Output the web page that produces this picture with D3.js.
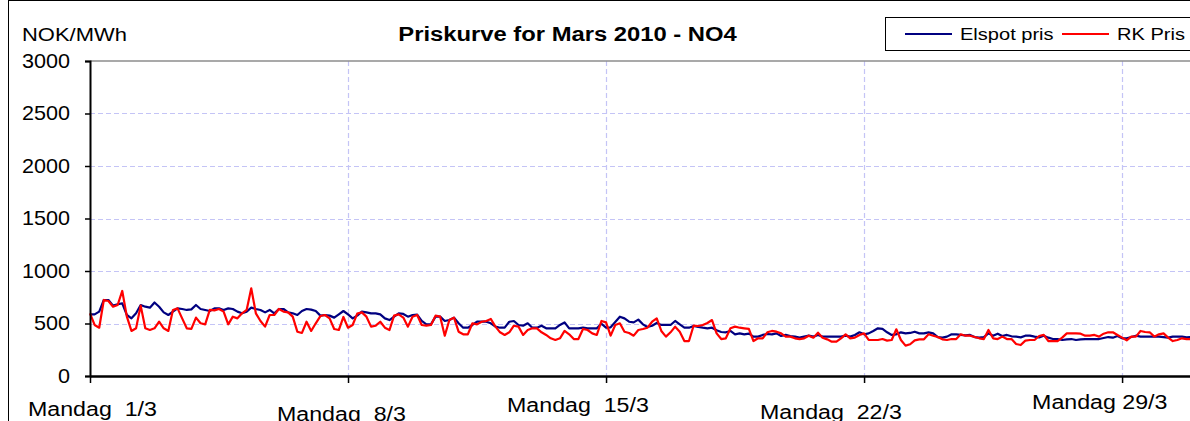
<!DOCTYPE html>
<html>
<head>
<meta charset="utf-8">
<script src="https://cdn.jsdelivr.net/npm/d3@7"></script>
<style>
  body { margin: 0; background: #fff; }
  svg { display: block; font-family: "Liberation Sans", Arial, sans-serif; }
</style>
</head>
<body>
<div id="chart-area"></div>
<script>
// hourly prices, one value every 3 hours from 1 March 00:00
const stepHours = 3;

const elspotPris = [
  587, 587, 613, 724, 724, 670, 683, 692, 581, 549, 597, 676, 660, 651, 700, 660, 606, 581, 613, 644, 638, 629,
  635, 676, 638, 629, 619, 644, 644, 629, 644, 638, 613, 597, 613, 651, 638, 629, 606, 629, 597, 638, 638, 606,
  597, 581, 619, 638, 632, 619, 575, 581, 575, 556, 587, 619, 587, 549, 575, 613, 606, 597, 597, 587, 549, 533,
  565, 597, 591, 565, 581, 584, 524, 492, 492, 565, 565, 524, 533, 556, 502, 460, 460, 486, 517, 517, 517,
  502, 470, 460, 460, 517, 524, 486, 479, 502, 460, 460, 479, 454, 454, 454, 486, 511, 454, 454, 454, 460, 454,
  454, 454, 498, 460, 464, 514, 565, 549, 517, 511, 537, 492, 467, 479, 505, 486, 486, 486, 524, 492, 460, 460,
  476, 467, 460, 454, 460, 435, 419, 416, 429, 397, 406, 397, 403, 375, 375, 391, 400, 397, 406, 381, 391,
  381, 375, 365, 375, 384, 375, 391, 375, 375, 375, 375, 375, 384, 375, 391, 416, 397, 406, 429, 454, 448, 416,
  391, 397, 416, 406, 410, 422, 406, 406, 416, 406, 371, 365, 375, 397, 397, 391, 387, 391, 371, 365, 371, 406,
  384, 403, 381, 391, 378, 375, 368, 384, 384, 375, 368, 384, 365, 352, 352, 343, 349, 352, 343, 349, 352, 352,
  352, 352, 362, 371, 365, 381, 359, 359, 371, 384, 375, 375, 375, 375, 375, 371, 365, 375, 375, 375, 368, 370
];

const rkPris = [
  597, 486, 460, 724, 714, 660, 676, 810, 565, 429, 454, 670, 454, 438, 454, 517, 454, 429, 629, 644, 549, 454,
  448, 556, 502, 492, 629, 625, 638, 613, 492, 565, 549, 597, 629, 835, 597, 524, 470, 581, 581, 638, 613, 606,
  565, 422, 410, 517, 429, 502, 571, 581, 549, 448, 438, 562, 460, 486, 594, 606, 565, 470, 479, 517, 460, 438,
  575, 587, 556, 470, 565, 581, 486, 479, 486, 575, 565, 384, 533, 556, 422, 397, 397, 502, 492, 517, 524,
  543, 470, 416, 391, 416, 479, 470, 391, 438, 454, 454, 416, 391, 359, 343, 359, 429, 397, 352, 352, 448, 438,
  406, 391, 524, 511, 384, 486, 502, 422, 410, 384, 438, 448, 460, 517, 549, 429, 375, 416, 470, 422, 333, 333,
  479, 476, 486, 505, 533, 406, 352, 359, 454, 470, 460, 454, 448, 333, 359, 359, 416, 429, 422, 406, 375,
  375, 359, 352, 359, 384, 365, 413, 365, 349, 327, 327, 359, 397, 359, 365, 391, 406, 343, 343, 343, 352, 337,
  343, 445, 343, 289, 302, 340, 349, 349, 397, 384, 371, 349, 343, 352, 352, 397, 384, 384, 371, 359, 352, 438,
  359, 352, 375, 352, 352, 305, 295, 337, 343, 343, 381, 391, 333, 333, 333, 365, 406, 406, 406, 403, 384, 384,
  391, 375, 403, 416, 416, 391, 365, 340, 375, 375, 429, 419, 416, 375, 397, 406, 365, 333, 343, 359, 352, 352
];

const yTicks = [0, 500, 1000, 1500, 2000, 2500, 3000];
const tickDays = [0, 7, 14, 21, 28];
const tickLabels = ["Mandag  1/3", "Mandag  8/3", "Mandag  15/3", "Mandag  22/3", "Mandag 29/3"];
const seriesNames = ["Elspot pris", "RK Pris"];
const daysInMonth = 31;

const chart = {
  totalWidth: 1190,
  totalHeight: 421,
  plotLeft: 90,
  plotTop: 61,
  plotBottom: 376,
  dayWidth: 36.86,

  colors: ["#000080", "#ff0000"],
  gridColor: "#c4c4f6",

  // the picture is a little wider than tall, so text is stretched sideways
  stretch: 1.2,

  // Excel staggers the date labels, so each one gets its own offset
  labelOffsets: [[-62, 416], [-71, 421], [-99, 412], [-104, 419], [-90, 409]],

  svg: undefined,
  xScale: undefined,
  yScale: undefined,

  setup: function() {
    this.svg = d3.select("#chart-area")
      .append("svg")
        .attr("width", this.totalWidth)
        .attr("height", this.totalHeight);

    this.xScale = d3.scaleLinear()
      .domain([0, daysInMonth * 24])
      .range([this.plotLeft, this.plotLeft + daysInMonth * this.dayWidth]);

    this.yScale = d3.scaleLinear()
      .domain([0, 3000])
      .range([this.plotBottom, this.plotTop]);

    // outer frame
    this.svg.append("rect")
      .attr("x", 8.5)
      .attr("y", 0.5)
      .attr("width", this.totalWidth)
      .attr("height", this.totalHeight)
      .attr("fill", "none")
      .attr("stroke", "#000")
      .attr("stroke-width", 1);
  },

  addText: function(x, y, str, size, sx) {
    return this.svg.append("text")
      .attr("transform", "translate(" + x + "," + y + ") scale(" + sx + ",1)")
      .attr("font-size", size + "px")
      .attr("fill", "#000")
      .style("white-space", "pre")
      .text(str);
  },

  addGrid: function() {
    const right = this.totalWidth;

    this.svg.append("g")
      .selectAll("line")
      .data(yTicks.filter(v => v > 0 && v < 3000))
      .join("line")
        .attr("x1", this.plotLeft)
        .attr("x2", right)
        .attr("y1", d => Math.round(this.yScale(d)) + 0.5)
        .attr("y2", d => Math.round(this.yScale(d)) + 0.5)
        .attr("stroke", this.gridColor)
        .attr("stroke-width", 1.2)
        .attr("stroke-dasharray", "5,3");

    this.svg.append("g")
      .selectAll("line")
      .data(tickDays.filter(d => d > 0))
      .join("line")
        .attr("x1", d => Math.round(this.xScale(d * 24)) + 0.5)
        .attr("x2", d => Math.round(this.xScale(d * 24)) + 0.5)
        .attr("y1", this.plotTop)
        .attr("y2", this.plotBottom)
        .attr("stroke", this.gridColor)
        .attr("stroke-width", 1.2)
        .attr("stroke-dasharray", "5,3");

    // top of the plot area
    this.svg.append("line")
      .attr("x1", this.plotLeft)
      .attr("x2", right)
      .attr("y1", this.yScale(3000))
      .attr("y2", this.yScale(3000))
      .attr("stroke", "#8c8c8c")
      .attr("stroke-width", 1.5);
  },

  addLines: function() {
    const line = d3.line()
      .x((d, i) => this.xScale(i * stepHours))
      .y(d => this.yScale(d));

    [elspotPris, rkPris].forEach((series, i) => {
      this.svg.append("path")
        .datum(series)
        .attr("fill", "none")
        .attr("stroke", this.colors[i])
        .attr("stroke-width", 2.2)
        .attr("stroke-linejoin", "round")
        .attr("d", line);
    });
  },

  addAxis: function() {
    const yAxisCall = d3.axisLeft(this.yScale)
      .tickValues(yTicks)
      .tickSize(5)
      .tickPadding(14)
      .tickFormat(d3.format("d"));
    const yAxis = this.svg.append("g")
      .attr("transform", "translate(" + this.plotLeft + ",0)")
      .call(yAxisCall);
    yAxis.select(".domain").attr("stroke-width", 2);
    yAxis.selectAll("line").attr("stroke-width", 1.5);
    yAxis.selectAll("text")
      .attr("x", -18.5)
      .attr("transform", "scale(1.08,1)")
      .attr("font-family", "Liberation Sans, Arial, sans-serif")
      .attr("font-size", "20px")
      .attr("fill", "#000");

    const xAxisCall = d3.axisBottom(this.xScale)
      .tickValues(tickDays.map(d => d * 24))
      .tickSize(7)
      .tickSizeOuter(0)
      .tickFormat("");
    const xAxis = this.svg.append("g")
      .attr("transform", "translate(0," + this.plotBottom + ")")
      .call(xAxisCall);
    xAxis.select(".domain").attr("stroke-width", 2.5);
    xAxis.selectAll("line").attr("stroke-width", 1.5);

    tickLabels.forEach((label, i) => {
      const x = this.xScale(tickDays[i] * 24) + this.labelOffsets[i][0];
      this.addText(x, this.labelOffsets[i][1], label, 20, 1.16);
    });
  },

  addLabels: function() {
    this.addText(22, 41, "NOK/MWh", 18, 1.22);

    this.addText(567.5, 41, "Priskurve for Mars 2010 - NO4", 20, 1.19)
      .attr("text-anchor", "middle")
      .attr("font-weight", "bold");
  },

  addLegend: function() {
    const legend = this.svg.append("g")
      .attr("transform", "translate(885,17)");

    legend.append("rect")
      .attr("x", 0.5)
      .attr("y", 0.5)
      .attr("width", 330)
      .attr("height", 33)
      .attr("fill", "#fff")
      .attr("stroke", "#000")
      .attr("stroke-width", 1);

    const itemX = [20, 177];
    seriesNames.forEach((name, i) => {
      legend.append("line")
        .attr("x1", itemX[i])
        .attr("x2", itemX[i] + 47)
        .attr("y1", 17)
        .attr("y2", 17)
        .attr("stroke", this.colors[i])
        .attr("stroke-width", 2);

      this.addText(885 + itemX[i] + 55, 17 + 23, name, 17, 1.18);
    });
  },

  start: function() {
    this.setup();
    this.addGrid();
    this.addLines();
    this.addAxis();
    this.addLabels();
    this.addLegend();
  }
};

chart.start();
</script>
</body>
</html>
